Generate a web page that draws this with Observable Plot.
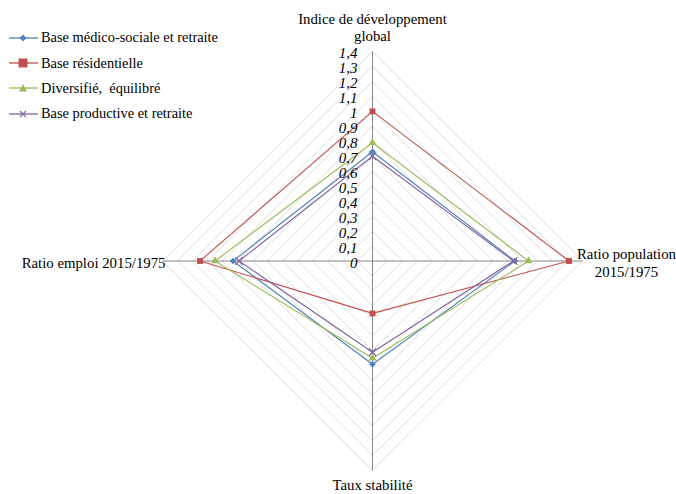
<!DOCTYPE html>
<html>
<head>
<meta charset="utf-8">
<script src="https://cdn.jsdelivr.net/npm/d3@7"></script>
<script src="https://cdn.jsdelivr.net/npm/@observablehq/plot@0.6"></script>
<style>
  body { margin: 0; background: #fff; }
  #wrap { position: relative; width: 676px; height: 494px; font-family: 'Liberation Serif', 'Times New Roman', Times, serif; }
  #legend { position: absolute; left: 9px; top: 25px; font-size: 14.4px; color: #000; font-family: 'Liberation Serif', 'Times New Roman', Times, serif; }
  .item { display: flex; align-items: center; height: 25.4px; white-space: pre; }
  .item svg { margin-right: 3px; }
</style>
</head>
<body>
<div id="wrap">
  <div id="chart"></div>
  <div id="legend"></div>
</div>
<script>
// Axes (clockwise from top)
const axes = ["Indice de développement\nglobal", "Ratio population\n2015/1975", "Taux stabilité", "Ratio emploi 2015/1975"];
const seriesNames = ["Base médico-sociale et retraite", "Base résidentielle", "Diversifié,  équilibré", "Base productive et retraite"];
const colors = ["#4F81BD", "#C0504D", "#9BBB59", "#8064A2"];
const symbols = ["diamond2", "square", "triangle", "times"];
// values per axis: [Indice, Ratio population, Taux stabilité, Ratio emploi]
const medicoSociale = [0.73, 0.95, 0.69, 0.93];
const residentielle = [1.00, 1.31, 0.35, 1.15];
const diversifie = [0.79, 1.04, 0.65, 1.05];
const productive = [0.70, 0.94, 0.61, 0.89];
const tickValues = [0, 0.1, 0.2, 0.3, 0.4, 0.5, 0.6, 0.7, 0.8, 0.9, 1, 1.1, 1.2, 1.3, 1.4];

const seriesValues = [medicoSociale, residentielle, diversifie, productive];
const maxR = 1.4;
// unit direction for each axis
const dirs = [[0, 1], [1, 0], [0, -1], [-1, 0]];

const points = [];
seriesValues.forEach((vals, s) => {
  vals.forEach((v, i) => points.push({s, x: dirs[i][0] * v, y: dirs[i][1] * v, order: i}));
});
const linePts = [];
seriesValues.forEach((vals, s) => {
  [0, 1, 2, 3, 0].forEach((i, k) => linePts.push({s, x: dirs[i][0] * vals[i], y: dirs[i][1] * vals[i], k}));
});
const gridPts = [];
tickValues.filter(t => t > 0).forEach(t => {
  [0, 1, 2, 3, 0].forEach((i, k) => gridPts.push({t, x: dirs[i][0] * t, y: dirs[i][1] * t, k}));
});
const spokes = dirs.map(d => ({x1: 0, y1: 0, x2: d[0] * maxR, y2: d[1] * maxR}));

const fmt = v => String(v).replace(".", ",");
const fontFam = "'Liberation Serif', 'Times New Roman', Times, serif";

const plot = Plot.plot({
  width: 676,
  height: 494,
  marginLeft: 162,
  marginRight: 94,
  marginTop: 51,
  marginBottom: 24,
  x: {domain: [-maxR, maxR], axis: null},
  y: {domain: [-maxR, maxR], axis: null},
  style: {fontFamily: fontFam, background: "#fff"},
  marks: [
    Plot.line(gridPts, {x: "x", y: "y", z: "t", stroke: "#dcdcdc", strokeWidth: 1}),
    Plot.link(spokes, {x1: "x1", y1: "y1", x2: "x2", y2: "y2", stroke: "#868686", strokeWidth: 1}),
    Plot.line(linePts, {x: "x", y: "y", z: "s", stroke: d => colors[d.s], strokeWidth: 1.1}),
    Plot.dot(points.filter(d => symbols[d.s] !== "times"), {
      x: "x", y: "y", symbol: d => symbols[d.s], fill: d => colors[d.s], stroke: "none",
      r: d => d.s === 1 ? 5.2 : 4.2
    }),
    Plot.dot(points.filter(d => symbols[d.s] === "times"), {
      x: "x", y: "y", symbol: "times", stroke: d => colors[d.s], r: 3.5, strokeWidth: 1.2
    }),
    Plot.text(tickValues, {
      x: 0, y: d => d, text: d => fmt(d), textAnchor: "end", dx: -15, dy: 2,
      fontStyle: "italic", fontSize: 15, fontFamily: fontFam, fill: "#000"
    }),
    Plot.text([axes[0]], {x: 0, y: maxR, text: d => d, lineAnchor: "bottom", dy: -11, fontSize: 14.8, lineHeight: 1.12, fontFamily: fontFam, fill: "#000"}),
    Plot.text([axes[1]], {x: maxR, y: 0, text: d => d, textAnchor: "middle", lineAnchor: "middle", dx: 44, dy: 1, fontSize: 14.8, lineHeight: 1.22, fontFamily: fontFam, fill: "#000"}),
    Plot.text([axes[2]], {x: 0, y: -maxR, text: d => d, lineAnchor: "top", dy: 9, fontSize: 14.8, fontFamily: fontFam, fill: "#000"}),
    Plot.text([axes[3]], {x: -maxR, y: 0, text: d => d, textAnchor: "end", dx: 3, dy: 2, fontSize: 14.8, fontFamily: fontFam, fill: "#000"})
  ]
});
document.getElementById("chart").appendChild(plot);

// Legend
const legend = document.getElementById("legend");
seriesNames.forEach((name, s) => {
  const item = document.createElement("div");
  item.className = "item";
  const c = colors[s];
  let marker = "";
  if (s === 0) marker = `<path d="M14,1.5 L17.5,5 L14,8.5 L10.5,5 Z" fill="${c}"/>`;
  else if (s === 1) marker = `<rect x="9.5" y="0.5" width="9" height="9" fill="${c}"/>`;
  else if (s === 2) marker = `<path d="M14,1 L18,8.5 L10,8.5 Z" fill="${c}"/>`;
  else marker = `<path d="M11,2 L17,8 M17,2 L11,8" stroke="${c}" stroke-width="1.2"/>`;
  item.innerHTML = `<svg width="29" height="10"><line x1="0" y1="5" x2="29" y2="5" stroke="${c}" stroke-width="1.3"/>${marker}</svg><span>${name}</span>`;
  legend.appendChild(item);
});
</script>
</body>
</html>
